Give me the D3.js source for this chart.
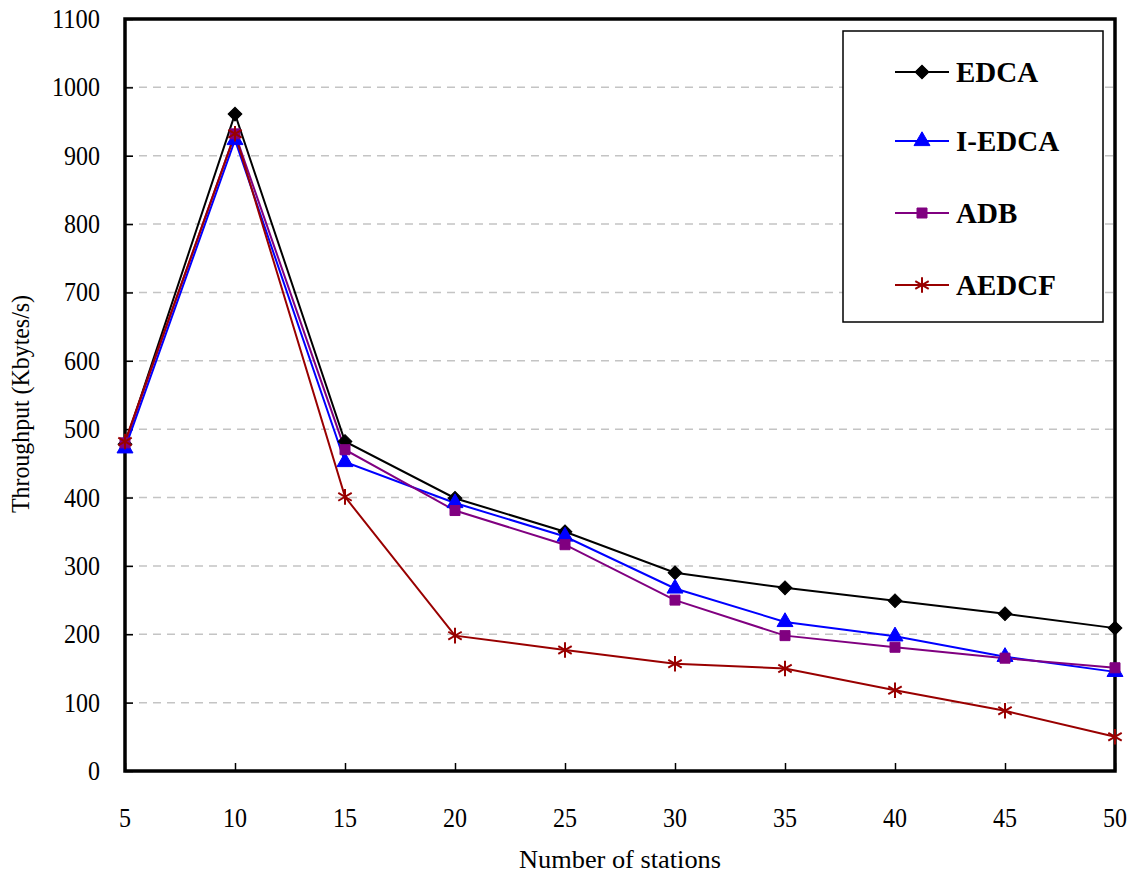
<!DOCTYPE html>
<html>
<head>
<meta charset="utf-8">
<script src="https://cdn.jsdelivr.net/npm/d3@7"></script>
<style>
  body { margin: 0; background: #fff; }
  text { font-family: "Liberation Serif", "Times New Roman", serif; }
</style>
</head>
<body>
<div id="graphic"></div>
<script>
// data
var stations = [5, 10, 15, 20, 25, 30, 35, 40, 45, 50];
var edca   = [478, 961, 482, 399, 350, 290, 268, 249, 230, 209];
var iedca  = [472, 923, 452, 392, 343, 267, 218, 197, 167, 145];
var adb    = [480, 932, 470, 381, 331, 250, 198, 181, 165, 151];
var aedcf  = [482, 932, 401, 198, 177, 157, 150, 118, 88, 50];
var seriesNames = ["EDCA", "I-EDCA", "ADB", "AEDCF"];
var yTicks = [0, 100, 200, 300, 400, 500, 600, 700, 800, 900, 1000, 1100];

var series = [
  { name: seriesNames[0], values: edca,  color: "#000000", shape: "diamond" },
  { name: seriesNames[1], values: iedca, color: "#0000ff", shape: "triangle" },
  { name: seriesNames[2], values: adb,   color: "#800080", shape: "square" },
  { name: seriesNames[3], values: aedcf, color: "#990000", shape: "star" }
];

var W = 1132, H = 878;
var plotL = 125, plotR = 1115, plotT = 19, plotB = 771;

var svg = d3.select("#graphic").append("svg")
    .attr("width", W)
    .attr("height", H);

var x = d3.scaleLinear().domain([5, 50]).range([plotL, plotR]);
var y = d3.scaleLinear().domain([0, 1100]).range([plotB, plotT]);

// grid lines
svg.append("g").selectAll("line")
  .data(yTicks.filter(function(d) { return d > 0 && d < 1100; }))
  .enter().append("line")
    .attr("x1", plotL).attr("x2", plotR)
    .attr("y1", function(d) { return y(d); })
    .attr("y2", function(d) { return y(d); })
    .attr("stroke", "#c4c4c4")
    .attr("stroke-width", 1.5)
    .attr("stroke-dasharray", "8,6");

// y axis (ticks pointing inwards)
var yAxis = svg.append("g")
    .attr("transform", "translate(" + plotL + ",0)")
    .call(d3.axisRight(y).tickValues(yTicks).tickSize(8).tickFormat(""));
yAxis.select(".domain").remove();
yAxis.selectAll("line").attr("stroke", "#000").attr("stroke-width", 1.5);

svg.append("g").selectAll("text")
  .data(yTicks)
  .enter().append("text")
    .attr("x", 100)
    .attr("y", function(d) { return y(d) + 9; })
    .attr("text-anchor", "end")
    .attr("font-size", 27)
    .attr("textLength", function(d) { return String(d).length * 12; })
    .attr("lengthAdjust", "spacingAndGlyphs")
    .text(function(d) { return d; });

// x axis (ticks pointing up)
var xAxis = svg.append("g")
    .attr("transform", "translate(0," + plotB + ")")
    .call(d3.axisTop(x).tickValues(stations).tickSize(8).tickFormat(""));
xAxis.select(".domain").remove();
xAxis.selectAll("line").attr("stroke", "#000").attr("stroke-width", 1.5);

svg.append("g").selectAll("text")
  .data(stations)
  .enter().append("text")
    .attr("x", function(d) { return x(d); })
    .attr("y", 827)
    .attr("text-anchor", "middle")
    .attr("font-size", 27)
    .attr("textLength", function(d) { return String(d).length * 12; })
    .attr("lengthAdjust", "spacingAndGlyphs")
    .text(function(d) { return d; });

// frame
svg.append("rect")
    .attr("x", plotL).attr("y", plotT)
    .attr("width", plotR - plotL).attr("height", plotB - plotT)
    .attr("fill", "none")
    .attr("stroke", "#000")
    .attr("stroke-width", 3.5);

// axis titles
svg.append("text")
    .attr("x", 620).attr("y", 868)
    .attr("text-anchor", "middle")
    .attr("font-size", 26)
    .attr("textLength", 202)
    .attr("lengthAdjust", "spacingAndGlyphs")
    .text("Number of stations");

svg.append("text")
    .attr("transform", "translate(29,404) rotate(-90)")
    .attr("text-anchor", "middle")
    .attr("font-size", 25)
    .attr("textLength", 218)
    .attr("lengthAdjust", "spacingAndGlyphs")
    .text("Throughput (Kbytes/s)");

// markers
var sym = {
  diamond: d3.symbol().type(d3.symbolSquare).size(95),
  triangle: d3.symbol().type(d3.symbolTriangle).size(110),
  square: d3.symbol().type(d3.symbolSquare).size(100),
  star: d3.symbol().type(d3.symbolAsterisk).size(170)
};

function drawMarker(g, s) {
  var p = g.append("path").attr("d", sym[s.shape]());
  if (s.shape === "diamond") p.attr("transform", "rotate(45)");
  if (s.shape === "star") {
    p.attr("fill", "none").attr("stroke", s.color).attr("stroke-width", 2);
  } else {
    p.attr("fill", s.color).attr("stroke", s.color).attr("stroke-width", 1);
  }
}

var line = d3.line()
    .x(function(d, i) { return x(stations[i]); })
    .y(function(d) { return y(d); });

series.forEach(function(s) {
  svg.append("path")
      .attr("d", line(s.values))
      .attr("fill", "none")
      .attr("stroke", s.color)
      .attr("stroke-width", 2);
});
series.forEach(function(s) {
  s.values.forEach(function(v, i) {
    var g = svg.append("g")
        .attr("transform", "translate(" + x(stations[i]) + "," + y(v) + ")");
    drawMarker(g, s);
  });
});

// legend
svg.append("rect")
    .attr("x", 843).attr("y", 31)
    .attr("width", 260).attr("height", 291)
    .attr("fill", "#fff")
    .attr("stroke", "#000")
    .attr("stroke-width", 1.5);

var legendY = [72, 141, 213, 285];
series.forEach(function(s, i) {
  var ly = legendY[i];
  svg.append("line")
      .attr("x1", 895).attr("x2", 949)
      .attr("y1", ly).attr("y2", ly)
      .attr("stroke", s.color)
      .attr("stroke-width", 2);
  var g = svg.append("g").attr("transform", "translate(922," + ly + ")");
  drawMarker(g, s);
  svg.append("text")
      .attr("x", 956).attr("y", ly + 10)
      .attr("font-size", 29)
      .attr("font-weight", "bold")
      .text(s.name);
});
</script>
</body>
</html>
